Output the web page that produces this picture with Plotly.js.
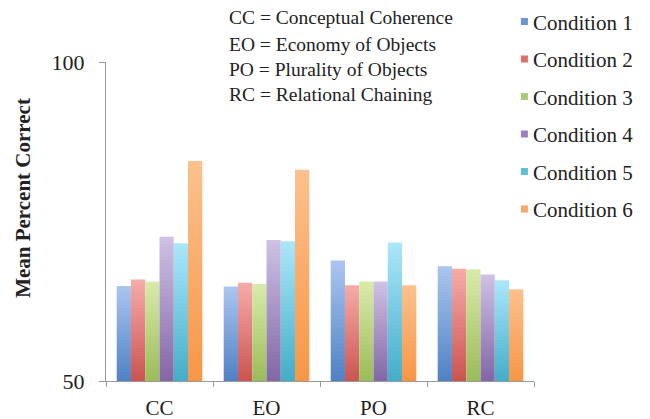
<!DOCTYPE html>
<html>
<head>
<meta charset="utf-8">
<script src="https://cdn.plot.ly/plotly-3.0.1.min.js"></script>
<style>html,body{margin:0;padding:0;background:#fff;}#chart{width:650px;height:419px;}</style>
</head>
<body>
<div id="chart"></div>
<script>
const categories = ["CC", "EO", "PO", "RC"];
const seriesNames = ["Condition 1", "Condition 2", "Condition 3", "Condition 4", "Condition 5", "Condition 6"];
const condition1 = [64.9, 64.8, 68.9, 68.0];
const condition2 = [65.9, 65.4, 65.0, 67.6];
const condition3 = [65.6, 65.2, 65.6, 67.5];
const condition4 = [72.6, 72.1, 65.6, 66.7];
const condition5 = [71.6, 71.9, 71.7, 65.8];
const condition6 = [84.5, 83.1, 65.0, 64.4];
const yTicks = [50, 100];
const axisMin = 50;
const axisMax = 100;
const abbreviations = ["CC = Conceptual Coherence", "EO = Economy of Objects", "PO = Plurality of Objects", "RC = Relational Chaining"];
const yTitle = "Mean Percent Correct";

const values = [condition1, condition2, condition3, condition4, condition5, condition6];
const baseColors = ["#4f81c4", "#cb5450", "#9bbb59", "#8266a6", "#44adc8", "#f79646"];
const topColors = ["#abc6ef", "#f6acaa", "#d9ebab", "#cfc2e4", "#abe7fb", "#fcc18d"];
const legendColors = ["#6b96d4", "#dc6f6c", "#adc874", "#9a80bd", "#5fbdd8", "#f9a666"];
const font = "Liberation Serif, Times New Roman, serif";

// bars start at the axis minimum so that each bar's gradient spans its visible length
const traces = values.map((v, i) => ({
  type: "bar",
  name: seriesNames[i],
  x: categories,
  base: axisMin,
  y: v.map(d => d - axisMin),
  marker: {color: baseColors[i], line: {width: 0}},
  legendgroup: "g" + i
}));

const annYs = [1.138, 1.056, 0.975, 0.897];
const annotations = abbreviations.map((t, i) => ({
  text: t, xref: "paper", yref: "paper", x: 0.283, y: annYs[i],
  xanchor: "left", yanchor: "middle", showarrow: false,
  font: {family: font, size: 19.5, color: "#222"}
}));
annotations.push({
  text: "<b>" + yTitle + "</b>", xref: "paper", yref: "paper", x: -0.194, y: 0.574,
  xanchor: "center", yanchor: "middle", textangle: -90, showarrow: false,
  font: {family: font, size: 21, color: "#222"}
});

const layout = {
  width: 650, height: 419,
  margin: {l: 106, r: 116, t: 62, b: 38, autoexpand: false},
  paper_bgcolor: "#fff", plot_bgcolor: "#fff",
  barmode: "group", bargap: 0.2, bargroupgap: 0,
  showlegend: true,
  legend: {x: 0.904, xanchor: "left", y: 1.19, yanchor: "top", maxheight: 400,
    font: {family: font, size: 21, color: "#222"}, tracegroupgap: 7.2, bgcolor: "rgba(0,0,0,0)"},
  xaxis: {type: "category", showline: true, linecolor: "#999", linewidth: 1,
    ticks: "outside", tickson: "boundaries", ticklen: 5, tickcolor: "#999", ticklabelstandoff: 8,
    tickfont: {family: font, size: 21, color: "#222"}, showgrid: false, zeroline: false},
  yaxis: {range: [axisMin, axisMax], tickvals: yTicks, showline: true, linecolor: "#999", linewidth: 1,
    ticks: "outside", ticklen: 6, tickcolor: "#999", showgrid: false, zeroline: false, ticklabelstandoff: 10,
    tickfont: {family: font, size: 22, color: "#222"}},
  annotations: annotations
};

Plotly.newPlot("chart", traces, layout, {displayModeBar: false, staticPlot: true}).then(gd => {
  const svg = gd.querySelector("svg.main-svg");
  const ns = "http://www.w3.org/2000/svg";
  let defs = svg.querySelector("defs");
  if (!defs) { defs = document.createElementNS(ns, "defs"); svg.insertBefore(defs, svg.firstChild); }
  baseColors.forEach((c, i) => {
    const lg = document.createElementNS(ns, "linearGradient");
    lg.setAttribute("id", "barGrad" + i);
    lg.setAttribute("x1", "0"); lg.setAttribute("y1", "1");
    lg.setAttribute("x2", "0"); lg.setAttribute("y2", "0");
    const s1 = document.createElementNS(ns, "stop");
    s1.setAttribute("offset", "0"); s1.setAttribute("stop-color", c);
    const s2 = document.createElementNS(ns, "stop");
    s2.setAttribute("offset", "1"); s2.setAttribute("stop-color", topColors[i]);
    lg.appendChild(s1); lg.appendChild(s2); defs.appendChild(lg);
  });
  gd.querySelectorAll(".barlayer .trace").forEach((tr, i) => {
    tr.querySelectorAll("path").forEach(p => { p.style.fill = "url(#barGrad" + i + ")"; });
  });
  gd.querySelectorAll(".legend .traces").forEach((tr, i) => {
    tr.querySelectorAll(".legendpoints path").forEach(p => {
      p.removeAttribute("transform");
      p.setAttribute("d", "M35,3.5H28V-3.5H35Z");
      p.style.fill = legendColors[i];
      p.style.stroke = "none";
    });
  });
});
</script>
</body>
</html>
